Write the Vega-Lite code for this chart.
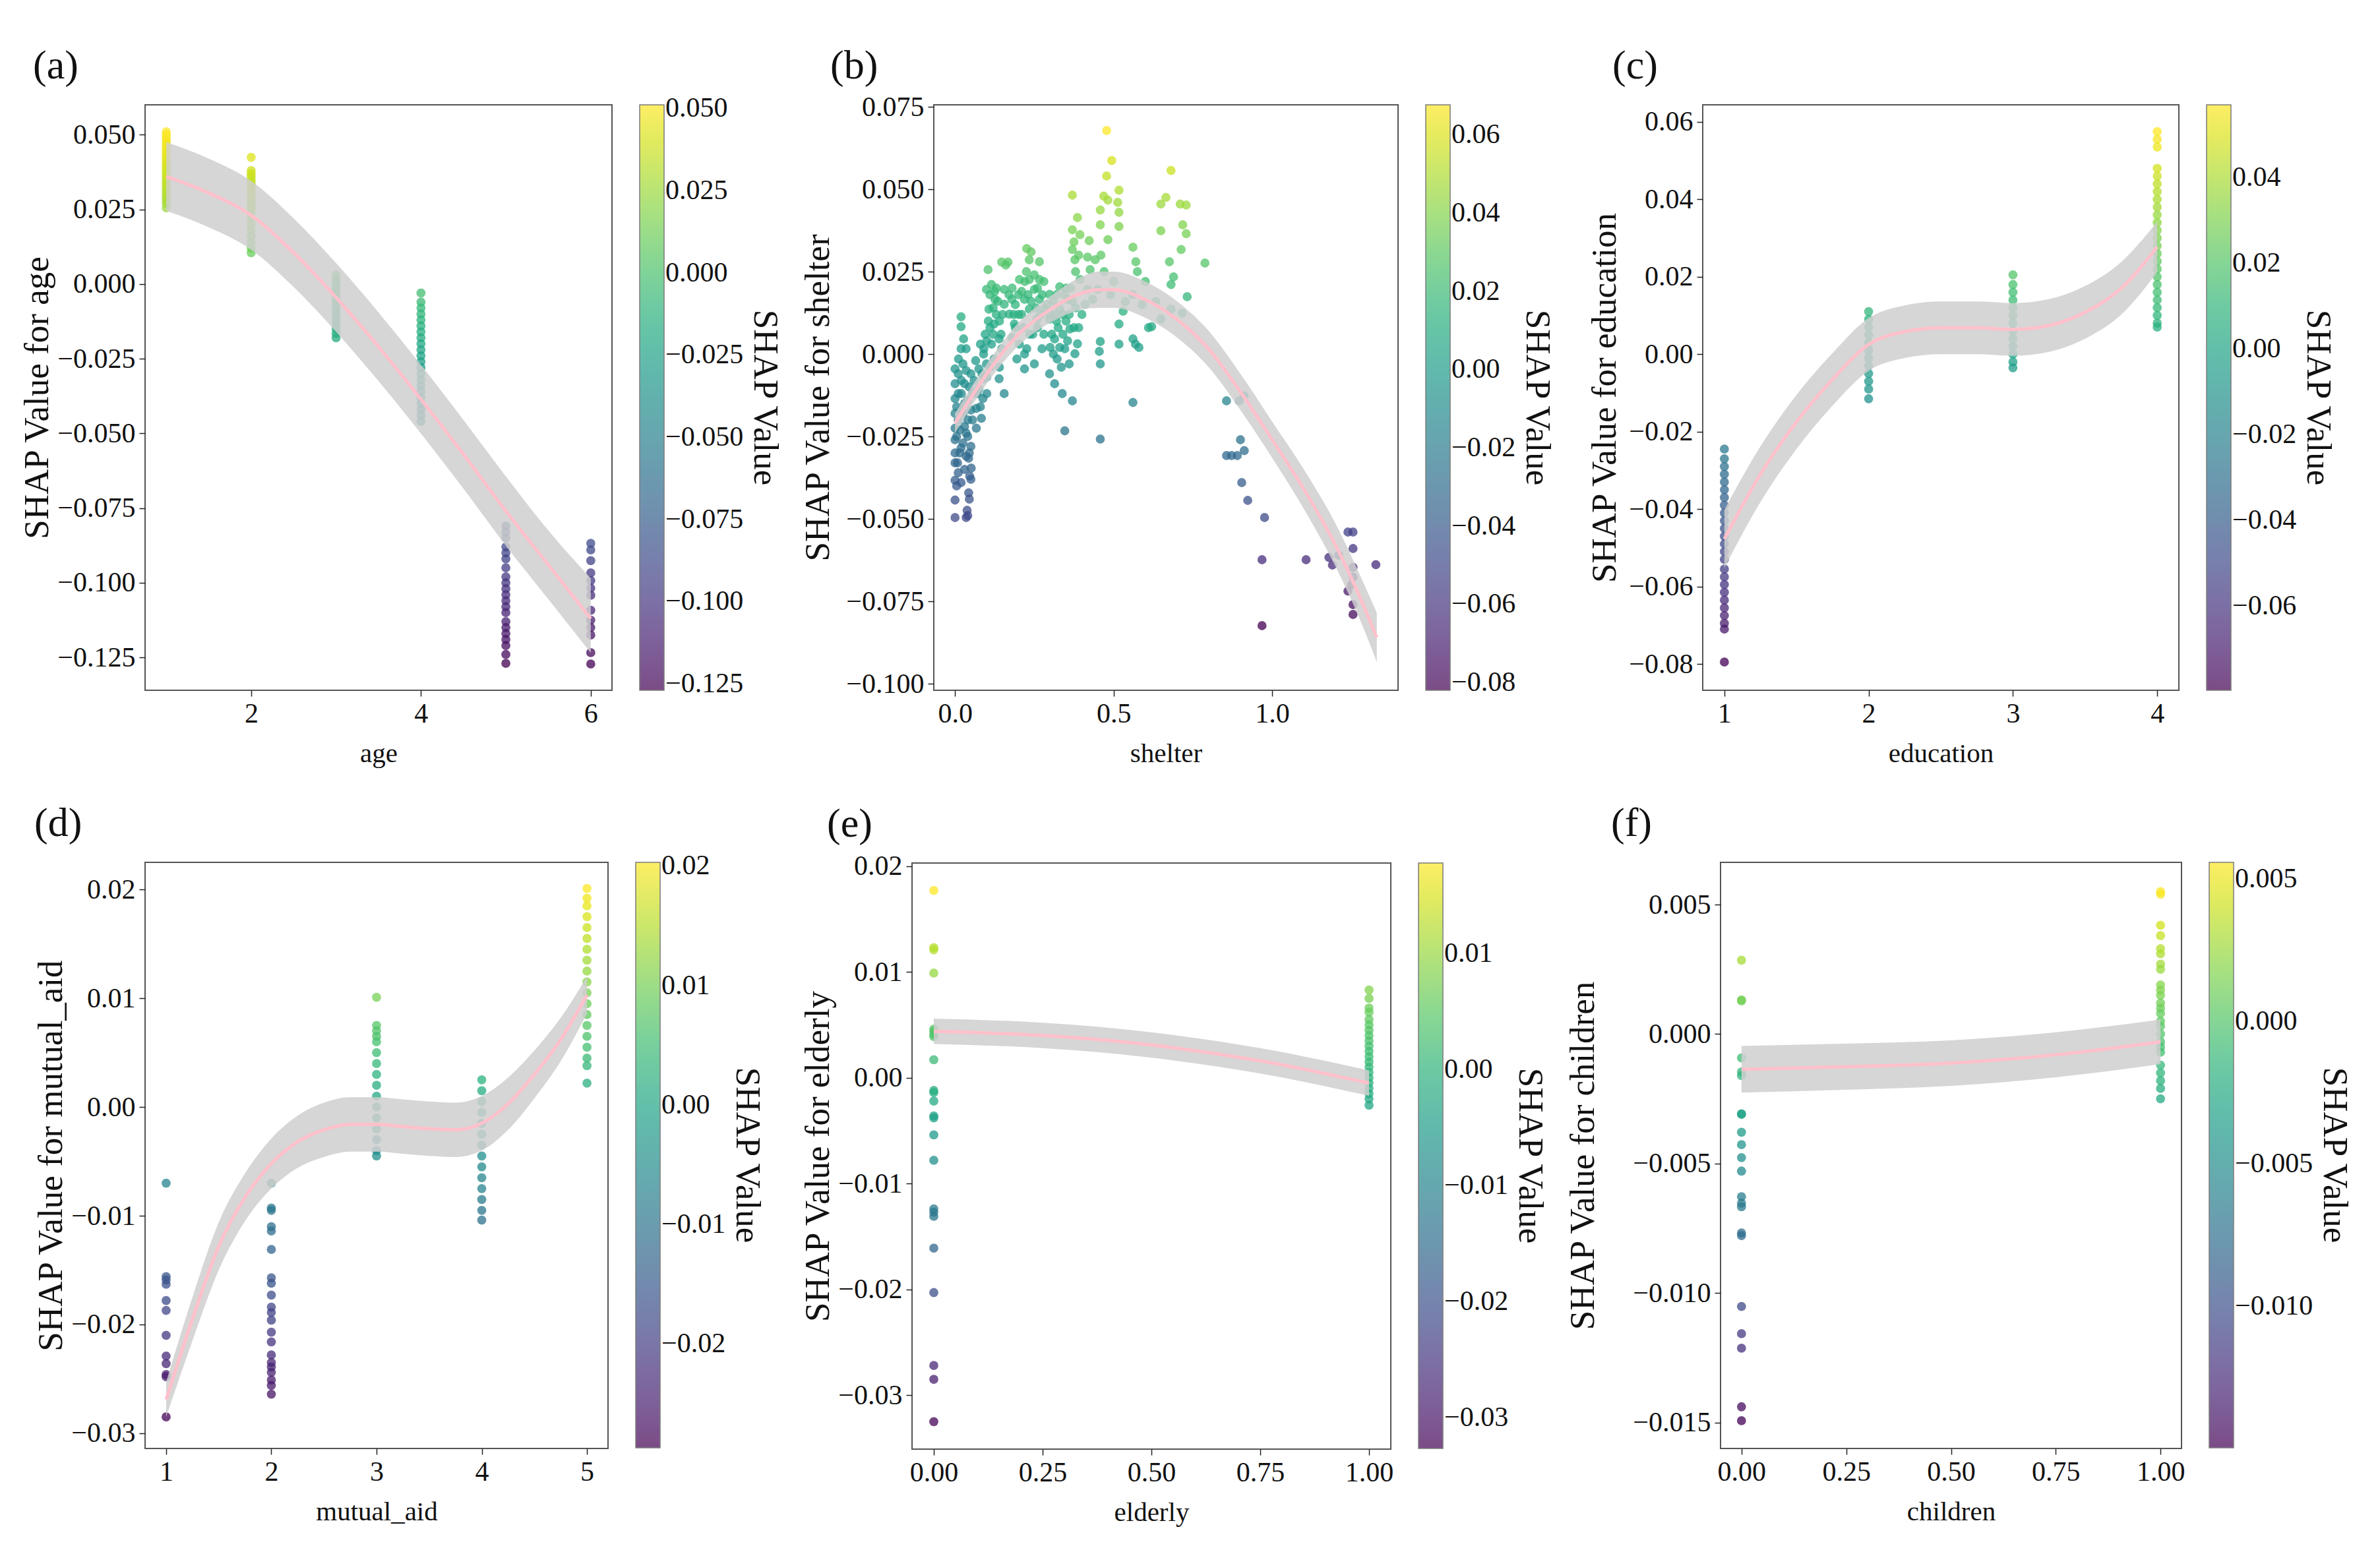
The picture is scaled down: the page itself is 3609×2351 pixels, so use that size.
{
"$schema": "https://vega.github.io/schema/vega-lite/v6.json",
"background": "white",
"padding": {"left": 29, "top": 67, "right": 10, "bottom": 4},
"datasets": {
"a_pts": [
{"x":1,"v":0.0255},{"x":1,"v":0.027},{"x":1,"v":0.028},{"x":1,"v":0.029},{"x":1,"v":0.030},{"x":1,"v":0.031},{"x":1,"v":0.032},{"x":1,"v":0.033},{"x":1,"v":0.034},{"x":1,"v":0.035},{"x":1,"v":0.036},{"x":1,"v":0.037},{"x":1,"v":0.038},{"x":1,"v":0.039},{"x":1,"v":0.040},{"x":1,"v":0.041},{"x":1,"v":0.042},{"x":1,"v":0.043},{"x":1,"v":0.044},{"x":1,"v":0.045},{"x":1,"v":0.046},{"x":1,"v":0.047},{"x":1,"v":0.048},{"x":1,"v":0.049},{"x":1,"v":0.050},{"x":1,"v":0.051},
{"x":2,"v":0.0105},{"x":2,"v":0.012},{"x":2,"v":0.014},{"x":2,"v":0.016},{"x":2,"v":0.018},{"x":2,"v":0.020},{"x":2,"v":0.022},{"x":2,"v":0.024},{"x":2,"v":0.025},{"x":2,"v":0.026},{"x":2,"v":0.027},{"x":2,"v":0.028},{"x":2,"v":0.029},{"x":2,"v":0.030},{"x":2,"v":0.031},{"x":2,"v":0.032},{"x":2,"v":0.033},{"x":2,"v":0.034},{"x":2,"v":0.035},{"x":2,"v":0.036},{"x":2,"v":0.037},{"x":2,"v":0.038},{"x":2,"v":0.0424},
{"x":3,"v":0.003},{"x":3,"v":0.0015},{"x":3,"v":0.0},{"x":3,"v":-0.0015},{"x":3,"v":-0.003},{"x":3,"v":-0.0045},{"x":3,"v":-0.006},{"x":3,"v":-0.0075},{"x":3,"v":-0.009},{"x":3,"v":-0.0105},{"x":3,"v":-0.012},{"x":3,"v":-0.0135},{"x":3,"v":-0.015},{"x":3,"v":-0.0165},{"x":3,"v":-0.018},
{"x":4,"v":-0.003},{"x":4,"v":-0.006},{"x":4,"v":-0.008},{"x":4,"v":-0.010},{"x":4,"v":-0.012},{"x":4,"v":-0.014},{"x":4,"v":-0.016},{"x":4,"v":-0.018},{"x":4,"v":-0.020},{"x":4,"v":-0.022},{"x":4,"v":-0.024},{"x":4,"v":-0.026},{"x":4,"v":-0.028},{"x":4,"v":-0.030},{"x":4,"v":-0.032},{"x":4,"v":-0.034},{"x":4,"v":-0.036},{"x":4,"v":-0.038},{"x":4,"v":-0.040},{"x":4,"v":-0.042},{"x":4,"v":-0.044},{"x":4,"v":-0.046},
{"x":5,"v":-0.081},{"x":5,"v":-0.083},{"x":5,"v":-0.085},{"x":5,"v":-0.088},{"x":5,"v":-0.090},{"x":5,"v":-0.092},{"x":5,"v":-0.095},{"x":5,"v":-0.098},{"x":5,"v":-0.100},{"x":5,"v":-0.102},{"x":5,"v":-0.104},{"x":5,"v":-0.106},{"x":5,"v":-0.108},{"x":5,"v":-0.110},{"x":5,"v":-0.113},{"x":5,"v":-0.115},{"x":5,"v":-0.117},{"x":5,"v":-0.119},{"x":5,"v":-0.121},{"x":5,"v":-0.124},{"x":5,"v":-0.127},
{"x":6,"v":-0.0868},{"x":6,"v":-0.089},{"x":6,"v":-0.0926},{"x":6,"v":-0.0967},{"x":6,"v":-0.0993},{"x":6,"v":-0.1018},{"x":6,"v":-0.1042},{"x":6,"v":-0.1092},{"x":6,"v":-0.1125},{"x":6,"v":-0.115},{"x":6,"v":-0.1175},{"x":6,"v":-0.1234},{"x":6,"v":-0.1272}
],
"a_fit": [
{"x":1.0,"fit":0.036,"lo":0.0245,"hi":0.0475},{"x":1.5,"fit":0.0305,"lo":0.019,"hi":0.042},{"x":2.0,"fit":0.023,"lo":0.0115,"hi":0.0345},{"x":2.5,"fit":0.0105,"lo":-0.001,"hi":0.022},{"x":3.0,"fit":-0.0045,"lo":-0.016,"hi":0.007},{"x":3.5,"fit":-0.021,"lo":-0.0325,"hi":-0.0095},{"x":4.0,"fit":-0.0386,"lo":-0.0501,"hi":-0.0271},{"x":4.5,"fit":-0.057,"lo":-0.0685,"hi":-0.0455},{"x":5.0,"fit":-0.076,"lo":-0.0876,"hi":-0.0644},{"x":5.5,"fit":-0.094,"lo":-0.1055,"hi":-0.0825},{"x":6.0,"fit":-0.112,"lo":-0.1235,"hi":-0.0985}
],
"b_pts": [
{"x":0.0,"v":-0.0496},{"x":0.0,"v":-0.0443},{"x":0.038,"v":-0.0474},{"x":0.035,"v":-0.0496},{"x":0.04,"v":-0.049},{"x":0.0,"v":-0.0383},{"x":0.019,"v":-0.039},{"x":0.043,"v":-0.0421},{"x":0.046,"v":-0.037},{"x":0.0,"v":-0.033},{"x":0.0,"v":-0.03},{"x":0.0,"v":-0.026},{"x":0.0,"v":-0.0225},{"x":0.0,"v":-0.018},{"x":0.0,"v":-0.0135},{"x":0.0,"v":-0.009},{"x":0.0,"v":-0.0045},{"x":0.011,"v":-0.0015},{"x":0.019,"v":0.0016},{"x":0.027,"v":0.0046},{"x":0.019,"v":-0.0285},{"x":0.035,"v":-0.024},{"x":0.043,"v":-0.0316},{"x":0.051,"v":-0.0346},{"x":0.05,"v":-0.028},{"x":0.03,"v":-0.035},{"x":0.01,"v":-0.02},{"x":0.01,"v":-0.012},{"x":0.02,"v":-0.008},{"x":0.03,"v":-0.015},{"x":0.04,"v":-0.02},{"x":0.045,"v":-0.01},{"x":0.035,"v":-0.005},{"x":0.05,"v":-0.017},{"x":0.02,"v":-0.017},{"x":0.019,"v":0.0113},{"x":0.019,"v":0.0083},{"x":0.035,"v":0.0016},{"x":0.005,"v":-0.025},{"x":0.008,"v":-0.033},
{"x":0.005,"v":-0.04},{"x":0.01,"v":-0.036},{"x":0.015,"v":-0.03},{"x":0.025,"v":-0.027},{"x":0.03,"v":-0.022},{"x":0.04,"v":-0.025},{"x":0.045,"v":-0.03},{"x":0.055,"v":-0.02},{"x":0.01,"v":-0.006},{"x":0.02,"v":-0.012},{"x":0.025,"v":-0.003},{"x":0.03,"v":-0.009},{"x":0.04,"v":-0.014},{"x":0.05,"v":-0.006},{"x":0.055,"v":-0.012},{"x":0.005,"v":-0.016},{"x":0.015,"v":-0.023},{"x":0.025,"v":-0.018},{"x":0.035,"v":-0.031},{"x":0.045,"v":-0.044},{"x":0.05,"v":-0.038},
{"x":0.067,"v":-0.0165},{"x":0.075,"v":-0.0105},{"x":0.083,"v":-0.0195},{"x":0.091,"v":-0.0075},{"x":0.099,"v":-0.003},{"x":0.091,"v":0.0016},{"x":0.075,"v":-0.0045},{"x":0.088,"v":-0.0135},{"x":0.067,"v":-0.0225},{"x":0.06,"v":-0.008},{"x":0.08,"v":0.003},{"x":0.065,"v":-0.002},{"x":0.1,"v":-0.012},{"x":0.095,"v":0.006},
{"x":0.07,"v":-0.012},{"x":0.08,"v":-0.016},{"x":0.085,"v":-0.006},{"x":0.09,"v":0.0},{"x":0.1,"v":0.004},{"x":0.105,"v":0.01},{"x":0.11,"v":0.008},{"x":0.12,"v":0.014},{"x":0.125,"v":0.019},{"x":0.13,"v":0.02},{"x":0.135,"v":0.016},{"x":0.14,"v":0.01},{"x":0.145,"v":0.006},{"x":0.15,"v":0.012},{"x":0.1,"v":-0.007},{"x":0.11,"v":-0.004},
{"x":0.099,"v":0.0196},{"x":0.115,"v":0.0211},{"x":0.107,"v":0.0136},{"x":0.123,"v":0.0091},{"x":0.139,"v":0.0046},{"x":0.115,"v":0.003},{"x":0.147,"v":0.0016},{"x":0.123,"v":-0.0015},{"x":0.155,"v":-0.012},{"x":0.139,"v":-0.0075},{"x":0.126,"v":0.0166},{"x":0.155,"v":0.0151},{"x":0.171,"v":0.0121},{"x":0.179,"v":0.0166},{"x":0.155,"v":0.0196},{"x":0.104,"v":0.0256},{"x":0.147,"v":0.0279},{"x":0.167,"v":0.0279},{"x":0.11,"v":0.018},{"x":0.13,"v":0.012},{"x":0.16,"v":0.027},{"x":0.14,"v":-0.004},{"x":0.12,"v":0.006},
{"x":0.17,"v":0.018},{"x":0.18,"v":0.02},{"x":0.185,"v":0.012},{"x":0.19,"v":0.008},{"x":0.2,"v":0.018},{"x":0.21,"v":0.012},{"x":0.215,"v":0.008},{"x":0.22,"v":0.022},{"x":0.225,"v":0.025},{"x":0.23,"v":0.018},{"x":0.235,"v":0.006},{"x":0.24,"v":0.016},{"x":0.25,"v":0.024},{"x":0.255,"v":0.014},{"x":0.26,"v":0.008},{"x":0.27,"v":0.012},{"x":0.275,"v":0.018},{"x":0.28,"v":0.022},{"x":0.29,"v":0.015},{"x":0.3,"v":0.012},{"x":0.305,"v":0.006},{"x":0.31,"v":0.0},{"x":0.315,"v":0.012},{"x":0.32,"v":0.018},{"x":0.325,"v":0.008},{"x":0.33,"v":0.002},{"x":0.335,"v":-0.004},{"x":0.34,"v":0.012},{"x":0.345,"v":0.018},{"x":0.35,"v":0.01},{"x":0.355,"v":0.004},{"x":0.36,"v":0.012},{"x":0.365,"v":0.02},{"x":0.37,"v":0.016},{"x":0.375,"v":0.008},{"x":0.38,"v":0.014},
{"x":0.187,"v":0.0091},{"x":0.203,"v":0.003},{"x":0.219,"v":0.0},{"x":0.195,"v":-0.0015},{"x":0.234,"v":0.0226},{"x":0.25,"v":0.0196},{"x":0.266,"v":0.0166},{"x":0.234,"v":0.0136},{"x":0.258,"v":0.0106},{"x":0.219,"v":0.0166},{"x":0.203,"v":0.0226},{"x":0.266,"v":0.0226},{"x":0.274,"v":0.0016},{"x":0.219,"v":-0.0045},{"x":0.25,"v":-0.003},{"x":0.226,"v":0.0016},{"x":0.234,"v":0.0286},{"x":0.226,"v":0.032},{"x":0.266,"v":0.028},{"x":0.24,"v":0.031},{"x":0.2,"v":0.012},{"x":0.18,"v":0.005},{"x":0.245,"v":0.006},{"x":0.21,"v":0.019},{"x":0.26,"v":0.02},{"x":0.19,"v":0.015},
{"x":0.298,"v":0.0106},{"x":0.314,"v":0.0046},{"x":0.33,"v":0.0136},{"x":0.298,"v":-0.006},{"x":0.314,"v":-0.009},{"x":0.338,"v":-0.012},{"x":0.346,"v":0.0016},{"x":0.362,"v":0.0076},{"x":0.354,"v":0.0166},{"x":0.33,"v":0.0204},{"x":0.298,"v":0.0181},{"x":0.282,"v":0.0136},{"x":0.322,"v":-0.0015},{"x":0.378,"v":0.0001},{"x":0.386,"v":0.0031},{"x":0.346,"v":-0.0233},{"x":0.37,"v":-0.0142},{"x":0.3,"v":0.002},{"x":0.32,"v":0.01},{"x":0.34,"v":0.006},{"x":0.36,"v":-0.003},{"x":0.35,"v":0.02},{"x":0.31,"v":0.016},{"x":0.28,"v":0.006},
{"x":0.394,"v":0.0226},{"x":0.418,"v":0.0196},{"x":0.41,"v":0.0151},{"x":0.434,"v":0.0166},{"x":0.45,"v":0.0196},{"x":0.426,"v":0.0256},{"x":0.442,"v":0.0286},{"x":0.37,"v":0.0482},{"x":0.386,"v":0.0414},{"x":0.37,"v":0.0377},{"x":0.394,"v":0.0362},{"x":0.37,"v":0.0317},{"x":0.378,"v":0.0286},{"x":0.418,"v":0.0294},{"x":0.423,"v":0.0344},{"x":0.38,"v":0.025},{"x":0.375,"v":0.034},{"x":0.39,"v":0.03},{"x":0.4,"v":0.012},{"x":0.39,"v":0.008},
{"x":0.478,"v":0.0678},{"x":0.494,"v":0.0587},{"x":0.478,"v":0.054},{"x":0.517,"v":0.0497},{"x":0.469,"v":0.0479},{"x":0.513,"v":0.046},{"x":0.482,"v":0.0467},{"x":0.458,"v":0.0437},{"x":0.517,"v":0.043},{"x":0.458,"v":0.0392},{"x":0.517,"v":0.0387},{"x":0.482,"v":0.0347},{"x":0.46,"v":0.03},{"x":0.47,"v":0.025},{"x":0.458,"v":-0.003},{"x":0.455,"v":0.0008},{"x":0.458,"v":0.0038},{"x":0.458,"v":-0.0258},{"x":0.517,"v":0.003},{"x":0.517,"v":0.0091},{"x":0.537,"v":0.0159},{"x":0.5,"v":0.022},{"x":0.49,"v":0.018},{"x":0.53,"v":0.013},
{"x":0.561,"v":0.0324},{"x":0.561,"v":0.0046},{"x":0.569,"v":0.003},{"x":0.561,"v":-0.0147},{"x":0.57,"v":0.028},{"x":0.56,"v":0.018},{"x":0.58,"v":0.002},{"x":0.6,"v":0.022},{"x":0.61,"v":0.008},{"x":0.59,"v":0.015},{"x":0.575,"v":0.025},{"x":0.62,"v":0.0083},
{"x":0.649,"v":0.0455},{"x":0.665,"v":0.0475},{"x":0.681,"v":0.0557},{"x":0.71,"v":0.0455},{"x":0.729,"v":0.0452},{"x":0.649,"v":0.0374},{"x":0.718,"v":0.0392},{"x":0.729,"v":0.0365},{"x":0.713,"v":0.0317},{"x":0.676,"v":0.028},{"x":0.689,"v":0.0234},{"x":0.681,"v":0.0211},{"x":0.732,"v":0.0174},{"x":0.716,"v":0.0124},{"x":0.681,"v":0.0136},{"x":0.649,"v":0.0106},{"x":0.633,"v":0.0159},{"x":0.788,"v":0.0276},
{"x":0.856,"v":-0.0142},{"x":0.896,"v":-0.0142},{"x":0.912,"v":-0.0127},{"x":0.9,"v":-0.026},{"x":0.856,"v":-0.0308},{"x":0.872,"v":-0.0308},{"x":0.89,"v":-0.0308},{"x":0.912,"v":-0.0293},{"x":0.904,"v":-0.039},{"x":0.923,"v":-0.0444},{"x":0.976,"v":-0.0496},{"x":0.968,"v":-0.0624},{"x":0.968,"v":-0.0824},
{"x":1.107,"v":-0.0624},{"x":1.179,"v":-0.0617},{"x":1.19,"v":-0.064},{"x":1.21,"v":-0.061},{"x":1.239,"v":-0.054},{"x":1.255,"v":-0.054},{"x":1.255,"v":-0.059},{"x":1.255,"v":-0.0647},{"x":1.255,"v":-0.0677},{"x":1.239,"v":-0.0719},{"x":1.255,"v":-0.076},{"x":1.255,"v":-0.079},{"x":1.25,"v":-0.07},{"x":1.327,"v":-0.0639}
],
"b_fit": [
{"x":0.0,"fit":-0.021,"lo":-0.024,"hi":-0.018},{"x":0.1,"fit":-0.006,"lo":-0.009,"hi":-0.003},{"x":0.2,"fit":0.006,"lo":0.0025,"hi":0.0095},{"x":0.3,"fit":0.0135,"lo":0.0095,"hi":0.0175},{"x":0.4,"fit":0.0185,"lo":0.0135,"hi":0.0235},{"x":0.45,"fit":0.0195,"lo":0.014,"hi":0.025},{"x":0.5,"fit":0.0195,"lo":0.014,"hi":0.025},{"x":0.6,"fit":0.0165,"lo":0.011,"hi":0.022},{"x":0.7,"fit":0.0105,"lo":0.005,"hi":0.016},{"x":0.8,"fit":0.0015,"lo":-0.004,"hi":0.007},{"x":0.9,"fit":-0.0115,"lo":-0.017,"hi":-0.006},{"x":1.0,"fit":-0.026,"lo":-0.0315,"hi":-0.0205},{"x":1.1,"fit":-0.041,"lo":-0.047,"hi":-0.035},{"x":1.2,"fit":-0.058,"lo":-0.0645,"hi":-0.0515},{"x":1.3,"fit":-0.079,"lo":-0.086,"hi":-0.072},{"x":1.33,"fit":-0.086,"lo":-0.0935,"hi":-0.0785}
],
"c_pts": [
{"x":1,"v":-0.0245},{"x":1,"v":-0.027},{"x":1,"v":-0.029},{"x":1,"v":-0.031},{"x":1,"v":-0.033},{"x":1,"v":-0.035},{"x":1,"v":-0.037},{"x":1,"v":-0.039},{"x":1,"v":-0.041},{"x":1,"v":-0.043},{"x":1,"v":-0.045},{"x":1,"v":-0.047},{"x":1,"v":-0.049},{"x":1,"v":-0.051},{"x":1,"v":-0.053},{"x":1,"v":-0.0555},{"x":1,"v":-0.0575},{"x":1,"v":-0.0595},{"x":1,"v":-0.0615},{"x":1,"v":-0.0635},{"x":1,"v":-0.0655},{"x":1,"v":-0.0675},{"x":1,"v":-0.0695},{"x":1,"v":-0.071},{"x":1,"v":-0.0795},
{"x":2,"v":0.011},{"x":2,"v":0.009},{"x":2,"v":0.007},{"x":2,"v":0.005},{"x":2,"v":0.003},{"x":2,"v":0.001},{"x":2,"v":-0.001},{"x":2,"v":-0.003},{"x":2,"v":-0.005},{"x":2,"v":-0.007},{"x":2,"v":-0.009},{"x":2,"v":-0.0115},
{"x":3,"v":0.0205},{"x":3,"v":0.018},{"x":3,"v":0.016},{"x":3,"v":0.014},{"x":3,"v":0.012},{"x":3,"v":0.010},{"x":3,"v":0.008},{"x":3,"v":0.006},{"x":3,"v":0.004},{"x":3,"v":0.002},{"x":3,"v":0.0},{"x":3,"v":-0.002},{"x":3,"v":-0.0035},
{"x":4,"v":0.0575},{"x":4,"v":0.0555},{"x":4,"v":0.0535},{"x":4,"v":0.048},{"x":4,"v":0.046},{"x":4,"v":0.044},{"x":4,"v":0.042},{"x":4,"v":0.040},{"x":4,"v":0.038},{"x":4,"v":0.036},{"x":4,"v":0.034},{"x":4,"v":0.032},{"x":4,"v":0.030},{"x":4,"v":0.028},{"x":4,"v":0.026},{"x":4,"v":0.024},{"x":4,"v":0.022},{"x":4,"v":0.020},{"x":4,"v":0.018},{"x":4,"v":0.016},{"x":4,"v":0.014},{"x":4,"v":0.012},{"x":4,"v":0.010},{"x":4,"v":0.008},{"x":4,"v":0.007}
],
"c_fit": [
{"x":1.0,"fit":-0.0477,"lo":-0.0552,"hi":-0.0402},{"x":1.25,"fit":-0.031,"lo":-0.0382,"hi":-0.0238},{"x":1.5,"fit":-0.0175,"lo":-0.0245,"hi":-0.0105},{"x":1.75,"fit":-0.0065,"lo":-0.0133,"hi":0.0003},{"x":2.0,"fit":0.0025,"lo":-0.0043,"hi":0.0093},{"x":2.25,"fit":0.0058,"lo":-0.001,"hi":0.0126},{"x":2.5,"fit":0.0068,"lo":0.0,"hi":0.0136},{"x":2.75,"fit":0.0068,"lo":0.0,"hi":0.0136},{"x":3.0,"fit":0.0064,"lo":-0.0004,"hi":0.0132},{"x":3.25,"fit":0.0074,"lo":0.0006,"hi":0.0142},{"x":3.5,"fit":0.0108,"lo":0.004,"hi":0.0176},{"x":3.75,"fit":0.017,"lo":0.0102,"hi":0.0238},{"x":4.0,"fit":0.0277,"lo":0.0212,"hi":0.0342}
],
"d_pts": [
{"x":1,"v":-0.007},{"x":1,"v":-0.0156},{"x":1,"v":-0.0159},{"x":1,"v":-0.0163},{"x":1,"v":-0.0178},{"x":1,"v":-0.0187},{"x":1,"v":-0.021},{"x":1,"v":-0.0229},{"x":1,"v":-0.0236},{"x":1,"v":-0.0246},{"x":1,"v":-0.0248},{"x":1,"v":-0.0285},
{"x":2,"v":-0.007},{"x":2,"v":-0.0093},{"x":2,"v":-0.0095},{"x":2,"v":-0.011},{"x":2,"v":-0.0114},{"x":2,"v":-0.0131},{"x":2,"v":-0.0157},{"x":2,"v":-0.0162},{"x":2,"v":-0.0173},{"x":2,"v":-0.0184},{"x":2,"v":-0.0189},{"x":2,"v":-0.0196},{"x":2,"v":-0.0207},{"x":2,"v":-0.0216},{"x":2,"v":-0.0228},{"x":2,"v":-0.0235},{"x":2,"v":-0.0239},{"x":2,"v":-0.0244},{"x":2,"v":-0.0251},{"x":2,"v":-0.0256},{"x":2,"v":-0.0264},
{"x":3,"v":0.0101},{"x":3,"v":0.0075},{"x":3,"v":0.007},{"x":3,"v":0.0065},{"x":3,"v":0.006},{"x":3,"v":0.005},{"x":3,"v":0.004},{"x":3,"v":0.003},{"x":3,"v":0.002},{"x":3,"v":0.001},{"x":3,"v":0.0},{"x":3,"v":-0.001},{"x":3,"v":-0.002},{"x":3,"v":-0.003},{"x":3,"v":-0.004},{"x":3,"v":-0.0045},
{"x":4,"v":0.0025},{"x":4,"v":0.0015},{"x":4,"v":0.0005},{"x":4,"v":-0.0005},{"x":4,"v":-0.0015},{"x":4,"v":-0.0025},{"x":4,"v":-0.0035},{"x":4,"v":-0.0045},{"x":4,"v":-0.0055},{"x":4,"v":-0.0065},{"x":4,"v":-0.0075},{"x":4,"v":-0.0085},{"x":4,"v":-0.0095},{"x":4,"v":-0.0104},
{"x":5,"v":0.0022},{"x":5,"v":0.0038},{"x":5,"v":0.0045},{"x":5,"v":0.0055},{"x":5,"v":0.0065},{"x":5,"v":0.0075},{"x":5,"v":0.0085},{"x":5,"v":0.0095},{"x":5,"v":0.0105},{"x":5,"v":0.0115},{"x":5,"v":0.0125},{"x":5,"v":0.0135},{"x":5,"v":0.0145},{"x":5,"v":0.0155},{"x":5,"v":0.0165},{"x":5,"v":0.0175},{"x":5,"v":0.0185},{"x":5,"v":0.0192},{"x":5,"v":0.0201}
],
"d_fit": [
{"x":1.0,"fit":-0.0269,"lo":-0.0285,"hi":-0.0253},{"x":1.25,"fit":-0.0195,"lo":-0.0215,"hi":-0.0175},{"x":1.5,"fit":-0.0128,"lo":-0.015,"hi":-0.0106},{"x":1.75,"fit":-0.0083,"lo":-0.0105,"hi":-0.0061},{"x":2.0,"fit":-0.0052,"lo":-0.0075,"hi":-0.0029},{"x":2.25,"fit":-0.0032,"lo":-0.0056,"hi":-0.0008},{"x":2.5,"fit":-0.0021,"lo":-0.0046,"hi":0.0004},{"x":2.75,"fit":-0.0016,"lo":-0.0041,"hi":0.0009},{"x":3.0,"fit":-0.0016,"lo":-0.0041,"hi":0.0009},{"x":3.25,"fit":-0.0018,"lo":-0.0043,"hi":0.0007},{"x":3.5,"fit":-0.002,"lo":-0.0045,"hi":0.0005},{"x":3.75,"fit":-0.0021,"lo":-0.0046,"hi":0.0004},{"x":4.0,"fit":-0.0015,"lo":-0.004,"hi":0.001},{"x":4.25,"fit":0.0003,"lo":-0.0021,"hi":0.0027},{"x":4.5,"fit":0.003,"lo":0.0008,"hi":0.0052},{"x":4.75,"fit":0.0062,"lo":0.0042,"hi":0.0082},{"x":5.0,"fit":0.0103,"lo":0.0086,"hi":0.012}
],
"e_pts": [
{"x":0,"v":0.0177},{"x":0,"v":0.0123},{"x":0,"v":0.0121},{"x":0,"v":0.0099},{"x":0,"v":0.0046},{"x":0,"v":0.0044},{"x":0,"v":0.0041},{"x":0,"v":0.0039},{"x":0,"v":0.0017},{"x":0,"v":-0.0012},{"x":0,"v":-0.0014},{"x":0,"v":-0.0022},{"x":0,"v":-0.0036},{"x":0,"v":-0.0038},{"x":0,"v":-0.0054},{"x":0,"v":-0.0078},{"x":0,"v":-0.0124},{"x":0,"v":-0.0127},{"x":0,"v":-0.0131},{"x":0,"v":-0.0161},{"x":0,"v":-0.0203},{"x":0,"v":-0.0272},{"x":0,"v":-0.0285},{"x":0,"v":-0.0325},
{"x":1,"v":0.0083},{"x":1,"v":0.0075},{"x":1,"v":0.0066},{"x":1,"v":0.0062},{"x":1,"v":0.0055},{"x":1,"v":0.005},{"x":1,"v":0.0045},{"x":1,"v":0.004},{"x":1,"v":0.0035},{"x":1,"v":0.003},{"x":1,"v":0.0025},{"x":1,"v":0.002},{"x":1,"v":0.0015},{"x":1,"v":0.001},{"x":1,"v":0.0005},{"x":1,"v":0.0},{"x":1,"v":-0.0005},{"x":1,"v":-0.001},{"x":1,"v":-0.0015},{"x":1,"v":-0.002},{"x":1,"v":-0.0026}
],
"e_fit": [
{"x":0.0,"fit":0.0044,"lo":0.0032,"hi":0.0056},{"x":0.25,"fit":0.004,"lo":0.0028,"hi":0.0052},{"x":0.5,"fit":0.0031,"lo":0.0019,"hi":0.0043},{"x":0.75,"fit":0.0016,"lo":0.0004,"hi":0.0028},{"x":1.0,"fit":-0.0005,"lo":-0.0017,"hi":0.0007}
],
"f_pts": [
{"x":0,"v":0.00285},{"x":0,"v":0.00132},{"x":0,"v":0.00128},{"x":0,"v":-0.00092},{"x":0,"v":-0.00146},{"x":0,"v":-0.0016},{"x":0,"v":-0.00308},{"x":0,"v":-0.0031},{"x":0,"v":-0.00379},{"x":0,"v":-0.00427},{"x":0,"v":-0.00477},{"x":0,"v":-0.00529},{"x":0,"v":-0.00628},{"x":0,"v":-0.00653},{"x":0,"v":-0.00667},{"x":0,"v":-0.00768},{"x":0,"v":-0.00778},{"x":0,"v":-0.01052},{"x":0,"v":-0.01157},{"x":0,"v":-0.01213},{"x":0,"v":-0.01439},{"x":0,"v":-0.01493},
{"x":1,"v":0.0055},{"x":1,"v":0.0054},{"x":1,"v":0.0042},{"x":1,"v":0.0038},{"x":1,"v":0.0033},{"x":1,"v":0.0031},{"x":1,"v":0.0027},{"x":1,"v":0.0025},{"x":1,"v":0.0019},{"x":1,"v":0.0017},{"x":1,"v":0.0015},{"x":1,"v":0.0012},{"x":1,"v":0.001},{"x":1,"v":0.0008},{"x":1,"v":0.0005},{"x":1,"v":0.0003},{"x":1,"v":0.0},{"x":1,"v":-0.0003},{"x":1,"v":-0.0005},{"x":1,"v":-0.0007},{"x":1,"v":-0.0012},{"x":1,"v":-0.0015},{"x":1,"v":-0.0018},{"x":1,"v":-0.0021},{"x":1,"v":-0.0025}
],
"f_fit": [
{"x":0.0,"fit":-0.00136,"lo":-0.00226,"hi":-0.00046},{"x":0.25,"fit":-0.00126,"lo":-0.00215,"hi":-0.00037},{"x":0.5,"fit":-0.00112,"lo":-0.002,"hi":-0.00024},{"x":0.75,"fit":-0.0008,"lo":-0.00167,"hi":0.00007},{"x":1.0,"fit":-0.0003,"lo":-0.00116,"hi":0.00056}
]
},
"columns": 3,
"align": "none",
"spacing": {"row": 53, "column": 26},
"concat": [
{
"width": 708, "height": 888,
"title": {"text": "(a)", "dx": -170},
"layer": [
{"data": {"name": "a_pts"}, "mark": {"type": "circle", "size": 190, "opacity": 0.75},
"encoding": {
"x": {"field": "x", "type": "quantitative", "title": "age", "scale": {"domain": [0.75, 6.25], "nice": false, "zero": false}, "axis": {"values": [2, 4, 6], "format": "d"}},
"y": {"field": "v", "type": "quantitative", "title": "SHAP Value for age", "scale": {"domain": [-0.136, 0.06], "nice": false, "zero": false}, "axis": {"values": [-0.125, -0.1, -0.075, -0.05, -0.025, 0, 0.025, 0.05], "format": ".3f"}},
"color": {"field": "v", "type": "quantitative", "scale": {"scheme": "viridis", "domain": [-0.127, 0.0511]}, "legend": {"title": "SHAP Value", "values": [0.05, 0.025, 0, -0.025, -0.05, -0.075, -0.1, -0.125], "format": ".3f"}}
}},
{"data": {"name": "a_fit"}, "mark": {"type": "area", "color": "#cfcfcf", "opacity": 0.85, "interpolate": "monotone"},
"encoding": {
"x": {"field": "x", "type": "quantitative", "title": "age", "scale": {"domain": [0.75, 6.25], "nice": false, "zero": false}},
"y": {"field": "lo", "type": "quantitative", "title": "SHAP Value for age", "scale": {"domain": [-0.136, 0.06], "nice": false, "zero": false}},
"y2": {"field": "hi"}
}},
{"data": {"name": "a_fit"}, "mark": {"type": "line", "color": "#ffc0cb", "strokeWidth": 5, "interpolate": "monotone"},
"encoding": {
"x": {"field": "x", "type": "quantitative", "title": "age", "scale": {"domain": [0.75, 6.25], "nice": false, "zero": false}},
"y": {"field": "fit", "type": "quantitative", "title": "SHAP Value for age", "scale": {"domain": [-0.136, 0.06], "nice": false, "zero": false}}
}}
]
},
{
"width": 704, "height": 888,
"title": {"text": "(b)", "dx": -157, "offset": 9},
"layer": [
{"data": {"name": "b_pts"}, "mark": {"type": "circle", "size": 190, "opacity": 0.75},
"encoding": {
"x": {"field": "x", "type": "quantitative", "title": "shelter", "scale": {"domain": [-0.067, 1.397], "nice": false, "zero": false}, "axis": {"values": [0, 0.5, 1], "format": ".1f"}},
"y": {"field": "v", "type": "quantitative", "title": "SHAP Value for shelter", "scale": {"domain": [-0.102, 0.0756], "nice": false, "zero": false}, "axis": {"values": [-0.1, -0.075, -0.05, -0.025, 0, 0.025, 0.05, 0.075], "format": ".3f", "titlePadding": 15}},
"color": {"field": "v", "type": "quantitative", "scale": {"scheme": "viridis", "domain": [-0.082, 0.0676]}, "legend": {"title": "SHAP Value", "values": [0.06, 0.04, 0.02, 0, -0.02, -0.04, -0.06, -0.08], "format": ".2f"}}
}},
{"data": {"name": "b_fit"}, "mark": {"type": "area", "color": "#cfcfcf", "opacity": 0.85, "interpolate": "monotone"},
"encoding": {
"x": {"field": "x", "type": "quantitative", "title": "shelter", "scale": {"domain": [-0.067, 1.397], "nice": false, "zero": false}},
"y": {"field": "lo", "type": "quantitative", "title": "SHAP Value for shelter", "scale": {"domain": [-0.102, 0.0756], "nice": false, "zero": false}},
"y2": {"field": "hi"}
}},
{"data": {"name": "b_fit"}, "mark": {"type": "line", "color": "#ffc0cb", "strokeWidth": 5, "interpolate": "monotone"},
"encoding": {
"x": {"field": "x", "type": "quantitative", "title": "shelter", "scale": {"domain": [-0.067, 1.397], "nice": false, "zero": false}},
"y": {"field": "fit", "type": "quantitative", "title": "SHAP Value for shelter", "scale": {"domain": [-0.102, 0.0756], "nice": false, "zero": false}}
}}
]
},
{
"width": 722, "height": 888,
"title": {"text": "(c)", "dx": -137},
"layer": [
{"data": {"name": "c_pts"}, "mark": {"type": "circle", "size": 190, "opacity": 0.75},
"encoding": {
"x": {"field": "x", "type": "quantitative", "title": "education", "scale": {"domain": [0.85, 4.15], "nice": false, "zero": false}, "axis": {"values": [1, 2, 3, 4], "format": "d"}},
"y": {"field": "v", "type": "quantitative", "title": "SHAP Value for education", "scale": {"domain": [-0.0868, 0.0644], "nice": false, "zero": false}, "axis": {"values": [-0.08, -0.06, -0.04, -0.02, 0, 0.02, 0.04, 0.06], "format": ".2f", "titlePadding": 9}},
"color": {"field": "v", "type": "quantitative", "scale": {"scheme": "viridis", "domain": [-0.0797, 0.057]}, "legend": {"title": "SHAP Value", "values": [0.04, 0.02, 0, -0.02, -0.04, -0.06], "format": ".2f"}}
}},
{"data": {"name": "c_fit"}, "mark": {"type": "area", "color": "#cfcfcf", "opacity": 0.85, "interpolate": "monotone"},
"encoding": {
"x": {"field": "x", "type": "quantitative", "title": "education", "scale": {"domain": [0.85, 4.15], "nice": false, "zero": false}},
"y": {"field": "lo", "type": "quantitative", "title": "SHAP Value for education", "scale": {"domain": [-0.0868, 0.0644], "nice": false, "zero": false}},
"y2": {"field": "hi"}
}},
{"data": {"name": "c_fit"}, "mark": {"type": "line", "color": "#ffc0cb", "strokeWidth": 5, "interpolate": "monotone"},
"encoding": {
"x": {"field": "x", "type": "quantitative", "title": "education", "scale": {"domain": [0.85, 4.15], "nice": false, "zero": false}},
"y": {"field": "fit", "type": "quantitative", "title": "SHAP Value for education", "scale": {"domain": [-0.0868, 0.0644], "nice": false, "zero": false}}
}}
]
},
{
"width": 702, "height": 889,
"title": {"text": "(d)", "dx": -168},
"layer": [
{"data": {"name": "d_pts"}, "mark": {"type": "circle", "size": 190, "opacity": 0.75},
"encoding": {
"x": {"field": "x", "type": "quantitative", "title": "mutual_aid", "scale": {"domain": [0.8, 5.2], "nice": false, "zero": false}, "axis": {"values": [1, 2, 3, 4, 5], "format": "d"}},
"y": {"field": "v", "type": "quantitative", "title": "SHAP Value for mutual_aid", "scale": {"domain": [-0.0314, 0.0225], "nice": false, "zero": false}, "axis": {"values": [-0.03, -0.02, -0.01, 0, 0.01, 0.02], "format": ".2f"}},
"color": {"field": "v", "type": "quantitative", "scale": {"scheme": "viridis", "domain": [-0.0287, 0.0203]}, "legend": {"title": "SHAP Value", "values": [0.02, 0.01, 0, -0.01, -0.02], "format": ".2f"}}
}},
{"data": {"name": "d_fit"}, "mark": {"type": "area", "color": "#cfcfcf", "opacity": 0.85, "interpolate": "monotone"},
"encoding": {
"x": {"field": "x", "type": "quantitative", "title": "mutual_aid", "scale": {"domain": [0.8, 5.2], "nice": false, "zero": false}},
"y": {"field": "lo", "type": "quantitative", "title": "SHAP Value for mutual_aid", "scale": {"domain": [-0.0314, 0.0225], "nice": false, "zero": false}},
"y2": {"field": "hi"}
}},
{"data": {"name": "d_fit"}, "mark": {"type": "line", "color": "#ffc0cb", "strokeWidth": 5, "interpolate": "monotone"},
"encoding": {
"x": {"field": "x", "type": "quantitative", "title": "mutual_aid", "scale": {"domain": [0.8, 5.2], "nice": false, "zero": false}},
"y": {"field": "fit", "type": "quantitative", "title": "SHAP Value for mutual_aid", "scale": {"domain": [-0.0314, 0.0225], "nice": false, "zero": false}}
}}
]
},
{
"width": 726, "height": 889,
"title": {"text": "(e)", "dx": -129, "offset": 11},
"layer": [
{"data": {"name": "e_pts"}, "mark": {"type": "circle", "size": 190, "opacity": 0.75},
"encoding": {
"x": {"field": "x", "type": "quantitative", "title": "elderly", "scale": {"domain": [-0.05, 1.05], "nice": false, "zero": false}, "axis": {"values": [0, 0.25, 0.5, 0.75, 1], "format": ".2f"}},
"y": {"field": "v", "type": "quantitative", "title": "SHAP Value for elderly", "scale": {"domain": [-0.0351, 0.0203], "nice": false, "zero": false}, "axis": {"values": [-0.03, -0.02, -0.01, 0, 0.01, 0.02], "format": ".2f"}},
"color": {"field": "v", "type": "quantitative", "scale": {"scheme": "viridis", "domain": [-0.0327, 0.0178]}, "legend": {"title": "SHAP Value", "values": [0.01, 0, -0.01, -0.02, -0.03], "format": ".2f"}}
}},
{"data": {"name": "e_fit"}, "mark": {"type": "area", "color": "#cfcfcf", "opacity": 0.85, "interpolate": "monotone"},
"encoding": {
"x": {"field": "x", "type": "quantitative", "title": "elderly", "scale": {"domain": [-0.05, 1.05], "nice": false, "zero": false}},
"y": {"field": "lo", "type": "quantitative", "title": "SHAP Value for elderly", "scale": {"domain": [-0.0351, 0.0203], "nice": false, "zero": false}},
"y2": {"field": "hi"}
}},
{"data": {"name": "e_fit"}, "mark": {"type": "line", "color": "#ffc0cb", "strokeWidth": 5, "interpolate": "monotone"},
"encoding": {
"x": {"field": "x", "type": "quantitative", "title": "elderly", "scale": {"domain": [-0.05, 1.05], "nice": false, "zero": false}},
"y": {"field": "fit", "type": "quantitative", "title": "SHAP Value for elderly", "scale": {"domain": [-0.0351, 0.0203], "nice": false, "zero": false}}
}}
]
},
{
"width": 699, "height": 889,
"title": {"text": "(f)", "dx": -166},
"layer": [
{"data": {"name": "f_pts"}, "mark": {"type": "circle", "size": 190, "opacity": 0.75},
"encoding": {
"x": {"field": "x", "type": "quantitative", "title": "children", "scale": {"domain": [-0.05, 1.05], "nice": false, "zero": false}, "axis": {"values": [0, 0.25, 0.5, 0.75, 1], "format": ".2f"}},
"y": {"field": "v", "type": "quantitative", "title": "SHAP Value for children", "scale": {"domain": [-0.016, 0.00663], "nice": false, "zero": false}, "axis": {"values": [-0.015, -0.01, -0.005, 0, 0.005], "format": ".3f", "titlePadding": 48}},
"color": {"field": "v", "type": "quantitative", "scale": {"scheme": "viridis", "domain": [-0.01497, 0.00558]}, "legend": {"title": "SHAP Value", "values": [0.005, 0, -0.005, -0.01], "format": ".3f"}}
}},
{"data": {"name": "f_fit"}, "mark": {"type": "area", "color": "#cfcfcf", "opacity": 0.85, "interpolate": "monotone"},
"encoding": {
"x": {"field": "x", "type": "quantitative", "title": "children", "scale": {"domain": [-0.05, 1.05], "nice": false, "zero": false}},
"y": {"field": "lo", "type": "quantitative", "title": "SHAP Value for children", "scale": {"domain": [-0.016, 0.00663], "nice": false, "zero": false}},
"y2": {"field": "hi"}
}},
{"data": {"name": "f_fit"}, "mark": {"type": "line", "color": "#ffc0cb", "strokeWidth": 5, "interpolate": "monotone"},
"encoding": {
"x": {"field": "x", "type": "quantitative", "title": "children", "scale": {"domain": [-0.05, 1.05], "nice": false, "zero": false}},
"y": {"field": "fit", "type": "quantitative", "title": "SHAP Value for children", "scale": {"domain": [-0.016, 0.00663], "nice": false, "zero": false}}
}}
]
}
],
"resolve": {"scale": {"color": "independent", "x": "independent", "y": "independent"}, "legend": {"color": "independent"}, "axis": {"x": "independent", "y": "independent"}},
"config": {
"font": "Liberation Serif",
"view": {"stroke": "#555555", "strokeWidth": 2},
"axis": {"grid": false, "domain": false, "ticks": true, "tickColor": "#222222", "tickSize": 9, "tickWidth": 1.5, "labelFont": "Liberation Serif", "labelFontSize": 42, "labelColor": "#111111", "labelPadding": 6, "labelOverlap": false, "titleFont": "Liberation Serif", "titleFontSize": 41, "titleFontWeight": "normal", "titleColor": "#111111"},
"axisX": {"titlePadding": 20},
"axisY": {"titleFontSize": 53, "titlePadding": 3},
"legend": {"gradientLength": 888, "gradientThickness": 37, "gradientStrokeColor": "#444444", "gradientStrokeWidth": 1.5, "gradientOpacity": 0.7, "labelFont": "Liberation Serif", "labelFontSize": 42, "labelColor": "#111111", "labelOffset": 6, "labelOverlap": false, "titleFont": "Liberation Serif", "titleFontSize": 53, "titleFontWeight": "normal", "titleColor": "#111111", "titleOrient": "right", "titleAngle": 270, "titleAnchor": "middle", "titlePadding": 6, "titleLimit": 3000, "offset": 42, "padding": 0},
"title": {"font": "Liberation Serif", "fontSize": 62, "fontWeight": "normal", "color": "#111111", "anchor": "start", "frame": "group", "baseline": "alphabetic", "offset": 27}
}
}
